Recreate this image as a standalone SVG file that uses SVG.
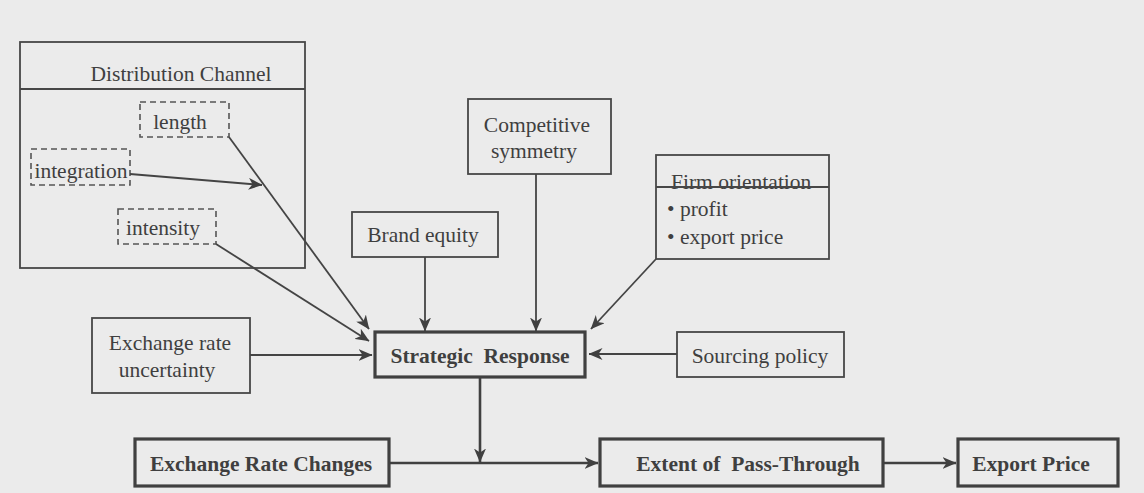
<svg xmlns="http://www.w3.org/2000/svg" width="1144" height="493" viewBox="0 0 1144 493">
<style>
  text { font-family: "Liberation Serif", "Times New Roman", serif; font-size: 21.5px; fill: #3f3f3f; }
  .b { font-weight: bold; }
  .box { fill: none; stroke: #474747; stroke-width: 1.8; }
  .thick { fill: none; stroke: #404040; stroke-width: 3.2; }
  .dash { fill: none; stroke: #555; stroke-width: 1.6; stroke-dasharray: 6 4; }
  .con { fill: none; stroke: #444; stroke-width: 1.8; }
  .con2 { fill: none; stroke: #404040; stroke-width: 2.6; }
</style>
<defs>
  <marker id="ah" viewBox="0 0 14 12" markerWidth="14" markerHeight="12" refX="13.5" refY="6" orient="auto" markerUnits="userSpaceOnUse">
    <path d="M0,0 L14,6 L0,12 L4,6 z" fill="#404040"/>
  </marker>
</defs>
<rect x="0" y="0" width="1144" height="493" fill="#ebebeb"/>

<g id="distribution-channel">
  <rect class="box" x="20" y="42" width="285" height="226"/>
  <line class="box" x1="20" y1="89" x2="305" y2="89"/>
  <text x="181" y="81" text-anchor="middle">Distribution Channel</text>
</g>
<g id="length">
  <rect class="dash" x="140" y="102" width="89" height="35"/>
  <text x="180" y="129" text-anchor="middle">length</text>
</g>
<g id="integration">
  <rect class="dash" x="31" y="149" width="99" height="36"/>
  <text x="81" y="178" text-anchor="middle">integration</text>
</g>
<g id="intensity">
  <rect class="dash" x="118" y="209" width="98" height="35"/>
  <text x="163" y="235" text-anchor="middle">intensity</text>
</g>
<g id="competitive-symmetry">
  <rect class="box" x="468" y="99" width="143" height="75"/>
  <text x="537" y="132" text-anchor="middle">Competitive</text>
  <text x="534" y="158" text-anchor="middle">symmetry</text>
</g>
<g id="brand-equity">
  <rect class="box" x="352" y="212" width="146" height="45"/>
  <text x="423" y="242" text-anchor="middle">Brand equity</text>
</g>
<g id="firm-orientation">
  <rect class="box" x="656" y="155" width="173" height="104"/>
  <text x="671" y="189">Firm orientation</text>
  <line class="box" x1="656" y1="187" x2="829" y2="187"/>
  <text x="667" y="216">• profit</text>
  <text x="667" y="244">• export price</text>
</g>
<g id="exchange-rate-uncertainty">
  <rect class="box" x="92" y="318" width="158" height="75"/>
  <text x="170" y="350" text-anchor="middle">Exchange rate</text>
  <text x="167" y="377" text-anchor="middle">uncertainty</text>
</g>
<g id="strategic-response">
  <rect class="thick" x="375" y="332" width="210" height="45"/>
  <text class="b" x="480" y="363" text-anchor="middle" xml:space="preserve">Strategic  Response</text>
</g>
<g id="sourcing-policy">
  <rect class="box" x="677" y="332" width="167" height="45"/>
  <text x="760" y="363" text-anchor="middle">Sourcing policy</text>
</g>
<g id="exchange-rate-changes">
  <rect class="thick" x="135" y="439" width="254" height="47"/>
  <text class="b" x="261" y="471" text-anchor="middle">Exchange Rate Changes</text>
</g>
<g id="extent-of-pass-through">
  <rect class="thick" x="600" y="439" width="283" height="47"/>
  <text class="b" x="748" y="471" text-anchor="middle" xml:space="preserve">Extent of  Pass-Through</text>
</g>
<g id="export-price">
  <rect class="thick" x="958" y="439" width="160" height="47"/>
  <text class="b" x="1031" y="471" text-anchor="middle">Export Price</text>
</g>

<g id="connectors">
  <line class="con" x1="229" y1="137" x2="369" y2="329" marker-end="url(#ah)"/>
  <line class="con" x1="130" y1="174" x2="262" y2="185" marker-end="url(#ah)"/>
  <line class="con" x1="216" y1="244" x2="369" y2="341" marker-end="url(#ah)"/>
  <line class="con" x1="250" y1="355" x2="372" y2="355" marker-end="url(#ah)"/>
  <line class="con" x1="425" y1="257" x2="425" y2="331" marker-end="url(#ah)"/>
  <line class="con" x1="536" y1="174" x2="536" y2="331" marker-end="url(#ah)"/>
  <line class="con" x1="656" y1="259" x2="591" y2="329" marker-end="url(#ah)"/>
  <line class="con" x1="677" y1="354" x2="589" y2="354" marker-end="url(#ah)"/>
  <line class="con2" x1="480" y1="378" x2="480" y2="462" marker-end="url(#ah)"/>
  <line class="con2" x1="389" y1="463" x2="598" y2="463" marker-end="url(#ah)"/>
  <line class="con2" x1="883" y1="463" x2="956" y2="463" marker-end="url(#ah)"/>
</g>
</svg>
